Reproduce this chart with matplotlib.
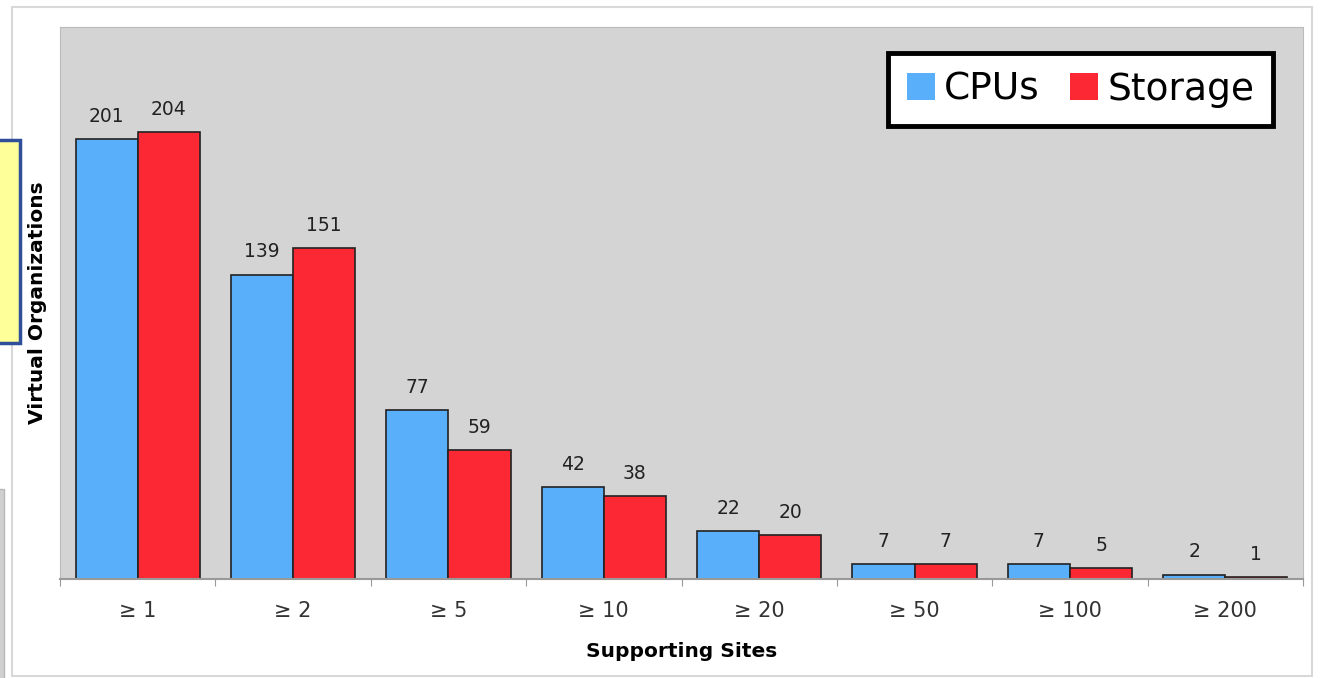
import matplotlib.pyplot as plt
import matplotlib.patches as mpatches
import numpy as np

# data
categories = ["\u2265 1", "\u2265 2", "\u2265 5", "\u2265 10", "\u2265 20", "\u2265 50", "\u2265 100", "\u2265 200"]
cpus = [201, 139, 77, 42, 22, 7, 7, 2]
storage = [204, 151, 59, 38, 20, 7, 5, 1]

W, H = 1322, 678
fig = plt.figure(figsize=(W / 100, H / 100), dpi=100)
fig.patch.set_facecolor("white")

# slide leftovers around the chart
fig.patches.append(mpatches.Rectangle((12 / W, 1 - 676 / H), (1312 - 12) / W, (676 - 7) / H,
                                      transform=fig.transFigure, fill=False,
                                      edgecolor="#d8d8d8", lw=1.5, zorder=0))
fig.patches.append(mpatches.Rectangle((-10 / W, 1 - 343 / H), 30 / W, (343 - 140) / H,
                                      transform=fig.transFigure, facecolor="#ffff99",
                                      edgecolor="#2f4f9a", lw=2.5, zorder=5))
fig.patches.append(mpatches.Rectangle((-5 / W, 1 - 690 / H), 9 / W, (690 - 489) / H,
                                      transform=fig.transFigure, facecolor="#d0d0d0",
                                      edgecolor="#b8b8b8", lw=1, zorder=5))

ax = fig.add_axes([60 / W, 1 - 579 / H, (1303 - 60) / W, (579 - 27) / H])
ax.set_facecolor("#d4d4d4")

x = np.arange(len(categories))
bw = 0.4
ax.bar(x - bw / 2, cpus, bw, color="#5aaffa", edgecolor="#222222", lw=1.2, label="CPUs")
ax.bar(x + bw / 2, storage, bw, color="#fc2833", edgecolor="#222222", lw=1.2, label="Storage")

for xi, v in zip(x - bw / 2, cpus):
    ax.text(xi, v + 6, str(v), ha="center", va="bottom", fontsize=13.5, color="#222222")
for xi, v in zip(x + bw / 2, storage):
    ax.text(xi, v + 6, str(v), ha="center", va="bottom", fontsize=13.5, color="#222222")

ax.set_xlim(-0.5, len(categories) - 0.5)
ax.set_ylim(0, 252)
ax.set_yticks([])
ax.set_xticks(np.arange(-0.5, len(categories)), minor=False)
ax.set_xticklabels([])
ax.set_xticks(x, minor=True)
ax.set_xticklabels(categories, minor=True, fontsize=15, color="#333333")
ax.tick_params(axis="x", which="minor", length=0, pad=16)
ax.tick_params(axis="x", which="major", length=5, color="#999999")

for side in ["top", "right", "left"]:
    ax.spines[side].set_color("#bbbbbb")
ax.spines["bottom"].set_color("#999999")
ax.spines["bottom"].set_linewidth(1.5)

ax.set_xlabel("Supporting Sites", fontsize=14.5, fontweight="bold", labelpad=15)
ax.set_ylabel("Virtual Organizations", fontsize=14.5, fontweight="bold", labelpad=9)

leg = ax.legend(loc="upper right", bbox_to_anchor=(0.976, 0.953), borderaxespad=0,
                ncol=2, fontsize=27, frameon=True, fancybox=False, framealpha=1,
                handlelength=0.75, handleheight=0.75, handletextpad=0.25,
                columnspacing=0.8, borderpad=0.5)
leg.get_frame().set_edgecolor("black")
leg.get_frame().set_facecolor("white")
leg.get_frame().set_linewidth(3.5)
for h in leg.legend_handles:
    h.set_edgecolor("none")

fig.savefig("out.png", dpi=100)
